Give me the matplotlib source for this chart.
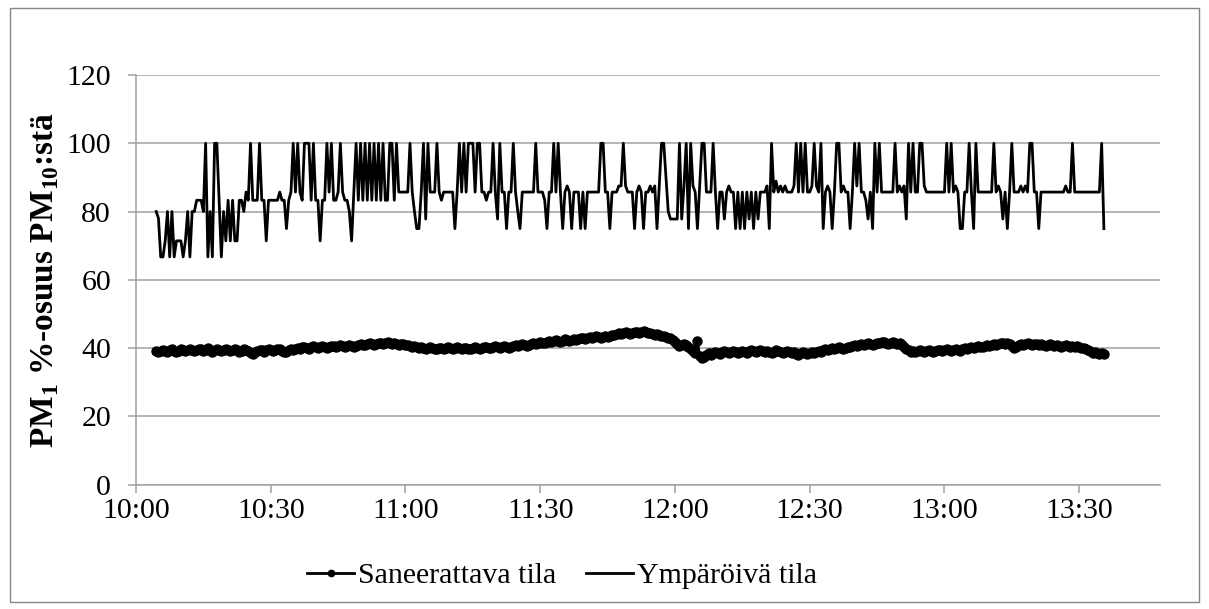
import matplotlib
matplotlib.use("Agg")
import matplotlib.pyplot as plt
import matplotlib.dates as mdates
import matplotlib.patches as mpatches
import pandas as pd

plt.rcParams['font.family'] = ['Liberation Serif', 'DejaVu Serif']
plt.rcParams['mathtext.fontset'] = 'custom'
plt.rcParams['mathtext.rm'] = 'Liberation Serif'
plt.rcParams['mathtext.bf'] = 'Liberation Serif:bold'

# measurement times: 30 s logging interval
start_time = "2000-01-01 10:04:30"
interval = "30s"

# PM1 share of PM10 (%) in the room being renovated
saneerattava = [
    39.0, 38.7, 39.1, 39.4, 39.0, 38.8, 39.3, 39.6, 39.2, 38.9, 39.2, 39.6, 39.4, 39.0, 39.3, 39.7, 39.5, 39.1, 39.4, 39.8,
    39.6, 39.2, 39.5, 39.9, 39.4, 38.9, 39.3, 39.6, 39.4, 39.0, 39.3, 39.7, 39.4, 39.0, 39.4, 39.7, 39.3, 38.9, 39.2, 39.6,
    39.4, 39.0, 38.6, 38.3, 38.7, 39.1, 39.5, 39.3, 38.9, 39.3, 39.7, 39.5, 39.1, 39.4, 39.8, 39.6, 39.2, 38.7, 38.9, 39.3,
    39.6, 39.4, 39.8, 40.1, 39.8, 40.2, 40.4, 40.1, 39.8, 40.2, 40.5, 40.3, 40.0, 40.3, 40.6, 40.4, 40.1, 40.4, 40.7, 40.5,
    40.2, 40.5, 40.8, 40.5, 40.3, 40.6, 40.9, 40.7, 40.4, 40.7, 41.0, 41.3, 41.0, 40.8, 41.2, 41.5, 41.3, 41.0, 41.3, 41.6,
    41.4, 41.1, 41.4, 41.7, 41.4, 41.2, 41.5, 41.3, 41.0, 41.3, 41.1, 40.8, 40.9, 40.6, 40.3, 40.6, 40.2, 39.9, 40.2, 40.0,
    39.7, 39.9, 40.2, 39.9, 39.6, 39.8, 40.1, 39.9, 39.6, 39.9, 40.2, 40.0, 39.7, 39.9, 40.2, 40.0, 39.7, 39.9, 40.1, 39.8,
    39.6, 39.9, 40.2, 40.0, 39.7, 39.9, 40.2, 40.4, 40.1, 39.9, 40.2, 40.5, 40.3, 40.0, 40.3, 40.6, 40.4, 40.1, 40.4, 40.7,
    40.9, 40.6, 40.9, 41.2, 40.9, 40.7, 41.0, 41.3, 41.6, 41.3, 41.6, 41.9, 41.6, 41.4, 41.7, 42.0, 41.8, 42.1, 42.4, 42.1,
    41.9, 42.2, 42.5, 42.3, 42.0, 42.3, 42.6, 42.4, 42.7, 43.0, 42.8, 42.5, 42.8, 43.1, 42.9, 43.2, 43.5, 43.2, 42.9, 43.2,
    43.5, 43.3, 43.6, 43.9, 43.7, 44.0, 44.3, 44.0, 44.4, 44.7, 44.5, 44.2, 44.5, 44.8, 44.6, 44.3, 44.6, 44.9, 44.6, 44.3,
    44.5, 44.2, 43.9, 44.1, 43.8, 43.4, 43.6, 43.2, 42.8, 42.9, 42.4, 41.8, 41.2, 40.7, 40.9, 41.3, 40.8, 40.2, 39.6, 39.0,
    38.4, 42.0, 37.6, 37.2, 37.5, 37.9, 38.4, 38.1, 38.5, 38.9, 38.6, 38.3, 38.7, 39.0, 38.7, 38.4, 38.8, 39.1, 38.8, 38.5,
    38.9, 39.2, 38.9, 38.6, 39.0, 39.3, 39.0, 38.7, 39.1, 39.4, 39.1, 38.8, 39.2, 38.9, 38.6, 38.9, 39.3, 39.0, 38.7, 38.4,
    38.7, 39.0, 38.7, 38.4, 38.7, 38.3, 38.0, 38.4, 38.7, 38.4, 38.2, 38.5, 38.8, 38.6, 38.9, 39.2, 38.9, 39.3, 39.6, 39.3,
    39.6, 39.9, 39.7, 40.0, 40.3, 40.0, 39.8, 40.1, 40.4, 40.2, 40.5, 40.8, 40.5, 40.8, 41.1, 40.9, 41.2, 41.5, 41.2, 41.0,
    41.3, 41.6, 41.4, 41.7, 41.9, 41.6, 41.3, 41.6, 41.8, 41.5, 41.2, 41.4, 41.0, 40.4, 39.8, 39.3, 38.9, 39.2, 38.8, 39.1,
    39.4, 39.1, 38.8, 39.1, 39.4, 39.2, 38.9, 39.2, 39.5, 39.3, 39.0, 39.3, 39.6, 39.4, 39.1, 39.4, 39.7, 39.5, 39.2, 39.6,
    39.9, 39.7, 40.0, 40.3, 40.1, 40.4, 40.7, 40.4, 40.2, 40.6, 40.9, 40.7, 41.0, 41.3, 41.0, 41.3, 41.6, 41.4, 41.1, 41.5,
    41.2, 40.6, 40.1, 40.4, 40.8, 41.1, 40.9, 41.2, 41.5, 41.2, 41.0, 41.3, 41.1, 40.8, 41.1, 40.9, 40.6, 40.9, 41.2, 40.9,
    40.6, 40.9, 40.7, 40.4, 40.7, 40.9, 40.6, 40.4, 40.6, 40.3, 40.5, 40.2, 39.9, 40.1, 39.7, 39.3, 39.0, 38.6, 38.8, 38.4,
    38.2, 38.5, 38.3,
]

# PM1 share of PM10 (%) in the surrounding space
ymparoiva = [
    80, 78, 66.7, 66.7, 71.4, 80, 66.7, 80, 66.7, 71.4, 71.4, 71.4, 66.7, 71.4, 80, 66.7, 80, 80, 83.3, 83.3,
    83.3, 80, 100, 66.7, 80, 66.7, 100, 100, 83.3, 66.7, 80, 71.4, 83.3, 71.4, 83.3, 71.4, 71.4, 83.3, 83.3, 80,
    85.7, 83.3, 100, 83.3, 83.3, 83.3, 100, 83.3, 83.3, 71.4, 83.3, 83.3, 83.3, 83.3, 83.3, 85.7, 83.3, 83.3, 75, 83.3,
    85.7, 100, 85.7, 100, 85.7, 83.3, 100, 100, 100, 83.3, 100, 83.3, 83.3, 71.4, 83.3, 83.3, 100, 85.7, 100, 83.3,
    83.3, 85.7, 100, 85.7, 83.3, 83.3, 80, 71.4, 85.7, 100, 83.3, 100, 83.3, 100, 83.3, 100, 83.3, 100, 83.3, 100,
    83.3, 100, 83.3, 83.3, 100, 100, 83.3, 100, 85.7, 85.7, 85.7, 85.7, 85.7, 100, 85.7, 80, 75, 75, 85.7, 100,
    77.8, 100, 85.7, 85.7, 85.7, 100, 85.7, 83.3, 85.7, 85.7, 85.7, 85.7, 85.7, 75, 85.7, 100, 85.7, 100, 85.7, 100,
    100, 100, 85.7, 100, 100, 85.7, 85.7, 83.3, 85.7, 85.7, 100, 85.7, 77.8, 100, 85.7, 85.7, 75, 85.7, 85.7, 100,
    85.7, 80, 75, 85.7, 85.7, 85.7, 85.7, 85.7, 85.7, 100, 85.7, 85.7, 85.7, 83.3, 75, 85.7, 85.7, 100, 85.7, 100,
    85.7, 75, 85.7, 87.5, 85.7, 75, 85.7, 85.7, 85.7, 75, 85.7, 75, 85.7, 85.7, 85.7, 85.7, 85.7, 85.7, 100, 100,
    85.7, 85.7, 75, 85.7, 85.7, 85.7, 87.5, 87.5,
    100, 87.5, 85.7, 85.7, 85.7, 75, 85.7, 87.5, 85.7, 75,
    85.7, 85.7, 87.5, 85.7, 87.5, 75, 87.5, 100, 100, 90,
    80, 77.8, 77.8, 77.8, 77.8, 100, 77.8, 87.5, 100, 75,
    100, 87.5, 85.7, 75, 87.5, 100, 100, 85.7, 85.7, 85.7,
    100, 85.7, 75, 85.7, 85.7, 77.8, 85.7, 87.5, 85.7, 85.7,
    75, 85.7, 75, 85.7, 75, 85.7, 77.8, 85.7, 75, 85.7,
    77.8, 85.7, 85.7, 85.7, 87.5, 75, 100, 85.7, 88.9, 85.7,
    87.5, 85.7, 87.5, 85.7, 85.7, 85.7, 87.5, 100, 85.7, 100,
    85.7, 100, 85.7, 85.7, 87.5, 100, 87.5, 85.7, 100, 75,
    85.7, 87.5, 85.7, 75, 85.7, 100, 100, 85.7, 87.5, 85.7,
    85.7, 75, 85.7, 100, 87.5, 100,
    85.7, 85.7, 83.3, 77.8, 85.7, 75, 100, 85.7, 100, 85.7,
    85.7, 85.7, 85.7, 85.7, 85.7, 100, 85.7, 87.5, 85.7, 87.5,
    77.8, 100, 85.7, 100, 85.7, 85.7, 100, 100, 87.5, 85.7,
    85.7, 85.7, 85.7, 85.7, 85.7, 85.7, 85.7, 85.7, 100, 85.7,
    100, 85.7, 87.5, 85.7, 75, 75, 85.7, 85.7, 100, 85.7,
    75, 100, 85.7, 85.7, 85.7, 85.7, 85.7, 85.7, 85.7, 100,
    85.7, 87.5, 85.7, 77.8, 85.7, 75, 85.7, 100, 85.7, 85.7,
    85.7, 87.5, 85.7, 87.5, 85.7, 100, 100, 85.7, 85.7, 75,
    85.7, 85.7, 85.7, 85.7, 85.7, 85.7, 85.7, 85.7, 85.7, 85.7,
    85.7, 87.5, 85.7, 85.7, 100, 85.7, 85.7, 85.7, 85.7, 85.7,
    85.7, 85.7, 85.7, 85.7, 85.7, 85.7, 85.7, 100, 75,
]

y_ticks = [0, 20, 40, 60, 80, 100, 120]
x_start = "2000-01-01 10:00"
x_end = "2000-01-01 13:48"

times = pd.date_range(start_time, periods=len(ymparoiva), freq=interval)

grey = '#a0a0a0'
fig = plt.figure(figsize=(12.09, 6.09), dpi=100)
ax = fig.add_axes([0.1125, 0.2044, 0.847, 0.6724])

ax.plot(times, saneerattava, color='black', lw=2, marker='o', ms=6.5,
        label='Saneerattava tila', zorder=3)
ax.plot(times, ymparoiva, color='black', lw=2, label='Ympäröivä tila', zorder=3)

ax.set_ylim(0, 120)
ax.set_yticks(y_ticks)
ax.set_xlim(pd.Timestamp(x_start), pd.Timestamp(x_end))
ax.xaxis.set_major_locator(mdates.MinuteLocator(byminute=[0, 30]))
ax.xaxis.set_major_formatter(mdates.DateFormatter('%H:%M'))

ax.grid(axis='y', color=grey, lw=1.1)
ax.set_axisbelow(True)
for s in ['top', 'right']:
    ax.spines[s].set_visible(False)
for s in ['left', 'bottom']:
    ax.spines[s].set_color(grey)
    ax.spines[s].set_linewidth(1.1)
ax.tick_params(axis='both', colors=grey, labelcolor='black', labelsize=21.5,
               length=6, width=1.1, direction='out')
ax.tick_params(axis='y', pad=12)
ax.tick_params(axis='x', pad=4)

ax.set_ylabel(r'PM$_\mathbf{1}$ %-osuus PM$_\mathbf{10}$:stä', fontsize=24,
              fontweight='bold')
ax.yaxis.set_label_coords(-0.073, 0.5)

fig.legend(loc='center', bbox_to_anchor=(0.465, 1 - 576 / 609), ncol=2,
           frameon=False, fontsize=21.5, handlelength=1.55, handletextpad=0.15,
           columnspacing=1.0, markerscale=0.7)

fig.patches.append(mpatches.Rectangle((0.008, 0.012), 0.984, 0.975,
                                      transform=fig.transFigure, fill=False,
                                      edgecolor='#868686', lw=1))

fig.savefig('out.png', dpi=100)
